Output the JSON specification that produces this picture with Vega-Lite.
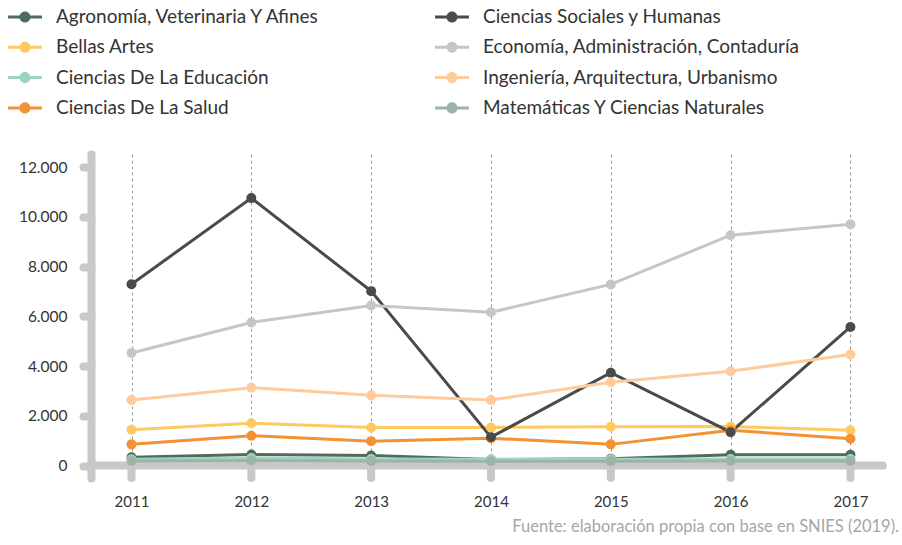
{
  "$schema": "https://vega.github.io/schema/vega-lite/v6.json",
  "autosize": {"type": "none"},
  "padding": {"left": 91, "top": 154, "right": 15, "bottom": 67},
  "width": 796,
  "height": 324,
  "background": "white",
  "config": {
    "view": {"stroke": null},
    "font": "Lato",
    "axis": {"labelFont": "Lato", "labelColor": "#333333", "labelFontSize": 15}
  },
  "title": {
    "text": "Fuente: elaboración propia con base en SNIES (2019).",
    "orient": "bottom",
    "anchor": "end",
    "font": "Lato",
    "fontSize": 16.5,
    "fontWeight": "normal",
    "color": "#a6a6a6",
    "offset": 10,
    "dx": 12
  },
  "datasets": {
    "series": [
      {"area": "Agronomía, Veterinaria Y Afines", "year": 2011, "value": 335},
      {"area": "Agronomía, Veterinaria Y Afines", "year": 2012, "value": 440},
      {"area": "Agronomía, Veterinaria Y Afines", "year": 2013, "value": 400},
      {"area": "Agronomía, Veterinaria Y Afines", "year": 2014, "value": 240},
      {"area": "Agronomía, Veterinaria Y Afines", "year": 2015, "value": 270},
      {"area": "Agronomía, Veterinaria Y Afines", "year": 2016, "value": 430},
      {"area": "Agronomía, Veterinaria Y Afines", "year": 2017, "value": 430},
      {"area": "Bellas Artes", "year": 2011, "value": 1440},
      {"area": "Bellas Artes", "year": 2012, "value": 1700},
      {"area": "Bellas Artes", "year": 2013, "value": 1530},
      {"area": "Bellas Artes", "year": 2014, "value": 1530},
      {"area": "Bellas Artes", "year": 2015, "value": 1560},
      {"area": "Bellas Artes", "year": 2016, "value": 1570},
      {"area": "Bellas Artes", "year": 2017, "value": 1420},
      {"area": "Ciencias De La Educación", "year": 2011, "value": 250},
      {"area": "Ciencias De La Educación", "year": 2012, "value": 300},
      {"area": "Ciencias De La Educación", "year": 2013, "value": 260},
      {"area": "Ciencias De La Educación", "year": 2014, "value": 250},
      {"area": "Ciencias De La Educación", "year": 2015, "value": 250},
      {"area": "Ciencias De La Educación", "year": 2016, "value": 260},
      {"area": "Ciencias De La Educación", "year": 2017, "value": 260},
      {"area": "Ciencias De La Salud", "year": 2011, "value": 850},
      {"area": "Ciencias De La Salud", "year": 2012, "value": 1200},
      {"area": "Ciencias De La Salud", "year": 2013, "value": 980},
      {"area": "Ciencias De La Salud", "year": 2014, "value": 1100},
      {"area": "Ciencias De La Salud", "year": 2015, "value": 850},
      {"area": "Ciencias De La Salud", "year": 2016, "value": 1420},
      {"area": "Ciencias De La Salud", "year": 2017, "value": 1075},
      {"area": "Ciencias Sociales y Humanas", "year": 2011, "value": 7290},
      {"area": "Ciencias Sociales y Humanas", "year": 2012, "value": 10750},
      {"area": "Ciencias Sociales y Humanas", "year": 2013, "value": 7010},
      {"area": "Ciencias Sociales y Humanas", "year": 2014, "value": 1140},
      {"area": "Ciencias Sociales y Humanas", "year": 2015, "value": 3730},
      {"area": "Ciencias Sociales y Humanas", "year": 2016, "value": 1340},
      {"area": "Ciencias Sociales y Humanas", "year": 2017, "value": 5570},
      {"area": "Economía, Administración, Contaduría", "year": 2011, "value": 4520},
      {"area": "Economía, Administración, Contaduría", "year": 2012, "value": 5750},
      {"area": "Economía, Administración, Contaduría", "year": 2013, "value": 6430},
      {"area": "Economía, Administración, Contaduría", "year": 2014, "value": 6160},
      {"area": "Economía, Administración, Contaduría", "year": 2015, "value": 7280},
      {"area": "Economía, Administración, Contaduría", "year": 2016, "value": 9260},
      {"area": "Economía, Administración, Contaduría", "year": 2017, "value": 9700},
      {"area": "Ingeniería, Arquitectura, Urbanismo", "year": 2011, "value": 2630},
      {"area": "Ingeniería, Arquitectura, Urbanismo", "year": 2012, "value": 3130},
      {"area": "Ingeniería, Arquitectura, Urbanismo", "year": 2013, "value": 2820},
      {"area": "Ingeniería, Arquitectura, Urbanismo", "year": 2014, "value": 2630},
      {"area": "Ingeniería, Arquitectura, Urbanismo", "year": 2015, "value": 3350},
      {"area": "Ingeniería, Arquitectura, Urbanismo", "year": 2016, "value": 3790},
      {"area": "Ingeniería, Arquitectura, Urbanismo", "year": 2017, "value": 4460},
      {"area": "Matemáticas Y Ciencias Naturales", "year": 2011, "value": 180},
      {"area": "Matemáticas Y Ciencias Naturales", "year": 2012, "value": 200},
      {"area": "Matemáticas Y Ciencias Naturales", "year": 2013, "value": 180},
      {"area": "Matemáticas Y Ciencias Naturales", "year": 2014, "value": 170},
      {"area": "Matemáticas Y Ciencias Naturales", "year": 2015, "value": 170},
      {"area": "Matemáticas Y Ciencias Naturales", "year": 2016, "value": 180},
      {"area": "Matemáticas Y Ciencias Naturales", "year": 2017, "value": 180}
    ],
    "years": [
      {"year": 2011}, {"year": 2012}, {"year": 2013}, {"year": 2014},
      {"year": 2015}, {"year": 2016}, {"year": 2017}
    ],
    "baseline": [{"from": 2010.662, "to": 2017.27, "value": 0}]
  },
  "layer": [
    {
      "data": {"name": "baseline"},
      "mark": {"type": "rule", "color": "#c8c8c8", "strokeWidth": 8, "strokeCap": "round"},
      "encoding": {
        "x": {"field": "from", "type": "quantitative", "scale": {"domain": [2010.662, 2017.305], "nice": false, "zero": false},
          "axis": {"values": [2011, 2012, 2013, 2014, 2015, 2016, 2017], "format": "d", "title": null, "ticks": false, "domain": false,
            "grid": true, "gridColor": "#999999", "gridDash": [3, 3], "gridWidth": 1, "labelPadding": 16, "labelFontSize": 15}},
        "x2": {"field": "to"},
        "y": {"field": "value", "type": "quantitative", "scale": {"domain": [-502, 12523], "nice": false, "zero": false},
          "axis": {"values": [0, 2000, 4000, 6000, 8000, 10000, 12000], "title": null, "grid": false,
            "labelExpr": "replace(format(datum.value, ','), ',', '.')",
            "domainColor": "#c8c8c8", "domainWidth": 8, "domainCap": "round",
            "tickColor": "#c8c8c8", "tickWidth": 8, "tickCap": "round", "tickSize": 8,
            "labelPadding": 16, "labelFontSize": 15.5}}
      }
    },
    {
      "data": {"name": "years"},
      "mark": {"type": "rule", "color": "#c8c8c8", "strokeWidth": 8, "strokeCap": "round"},
      "encoding": {
        "x": {"field": "year", "type": "quantitative"},
        "y": {"datum": 0},
        "y2": {"datum": -502}
      }
    },
    {
      "data": {"name": "series"},
      "mark": {"type": "line", "strokeWidth": 3},
      "encoding": {
        "x": {"field": "year", "type": "quantitative"},
        "y": {"field": "value", "type": "quantitative"},
        "color": {
          "field": "area", "type": "nominal",
          "scale": {
            "domain": ["Agronomía, Veterinaria Y Afines", "Bellas Artes", "Ciencias De La Educación", "Ciencias De La Salud", "Ciencias Sociales y Humanas", "Economía, Administración, Contaduría", "Ingeniería, Arquitectura, Urbanismo", "Matemáticas Y Ciencias Naturales"],
            "range": ["#4e6b5b", "#fdc960", "#9fd4bc", "#f39235", "#4a4a4a", "#c6c6c6", "#fdcb9c", "#9db3a8"]
          },
          "legend": {
            "orient": "none", "legendX": -81, "legendY": -152, "direction": "vertical",
            "columns": 2, "columnPadding": 114, "rowPadding": 5.3, "padding": 0,
            "title": null,
            "symbolType": "M-1.13,-0.1L1.13,-0.1L1.13,0.1L-1.13,0.1Z M-0.37,0A0.37,0.37,0,1,1,0.37,0A0.37,0.37,0,1,1,-0.37,0Z",
            "symbolSize": 900, "symbolStrokeWidth": 0, "symbolOpacity": 1,
            "labelFont": "Lato", "labelFontSize": 19, "labelColor": "#333333", "labelOffset": 16, "labelLimit": 400,
            "encode": {"symbols": {"update": {"fill": {"scale": "color", "field": "value"}, "strokeWidth": {"value": 0}}}}
          }
        },
        "order": {"field": "year"}
      }
    },
    {
      "data": {"name": "series"},
      "mark": {"type": "point", "filled": true, "size": 100, "opacity": 1},
      "encoding": {
        "x": {"field": "year", "type": "quantitative"},
        "y": {"field": "value", "type": "quantitative"},
        "color": {"field": "area", "type": "nominal"}
      }
    }
  ]
}
